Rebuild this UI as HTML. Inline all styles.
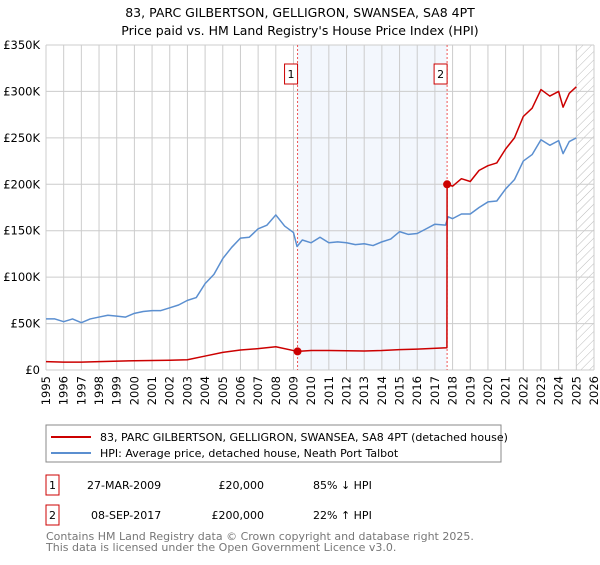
<!DOCTYPE html>
<html><head><meta charset="utf-8"><style>
body{margin:0;background:#fff;font-family:"Liberation Sans","DejaVu Sans",sans-serif;}
</style></head><body>
<svg id="c" width="600" height="560" xmlns="http://www.w3.org/2000/svg" font-family="DejaVu Sans, Liberation Sans, sans-serif">
<text x="300" y="17" text-anchor="middle" font-size="12.5">83, PARC GILBERTSON, GELLIGRON, SWANSEA, SA8 4PT</text>
<text x="300" y="35" text-anchor="middle" font-size="12.5">Price paid vs. HM Land Registry's House Price Index (HPI)</text>
<g id="plot"></g>
<g>
<rect x="46" y="425" width="455" height="37" fill="#fff" stroke="#888"/>
<line x1="51" y1="437" x2="91" y2="437" stroke="#cc0000" stroke-width="2"/>
<text x="100" y="441" font-size="11">83, PARC GILBERTSON, GELLIGRON, SWANSEA, SA8 4PT (detached house)</text>
<line x1="51" y1="453" x2="91" y2="453" stroke="#5b8fd0" stroke-width="2"/>
<text x="100" y="457" font-size="11">HPI: Average price, detached house, Neath Port Talbot</text>
</g>
<g font-size="11">
<rect x="46" y="475" width="13" height="20" fill="none" stroke="#cc0000"/>
<text x="52.5" y="489" text-anchor="middle">1</text>
<text x="87" y="489">27-MAR-2009</text><text x="264" y="489" text-anchor="end">£20,000</text><text x="313" y="489">85% ↓ HPI</text>
<rect x="46" y="505" width="13" height="20" fill="none" stroke="#cc0000"/>
<text x="52.5" y="519" text-anchor="middle">2</text>
<text x="91" y="519">08-SEP-2017</text><text x="264" y="519" text-anchor="end">£200,000</text><text x="313" y="519">22% ↑ HPI</text>
</g>
<text x="46" y="540" font-size="11" fill="#777">Contains HM Land Registry data © Crown copyright and database right 2025.</text>
<text x="46" y="551" font-size="11" fill="#777">This data is licensed under the Open Government Licence v3.0.</text>
</svg>
<script>
const hpiYears=[1995,1995.5,1996,1996.5,1997,1997.5,1998,1998.5,1999,1999.5,2000,2000.5,2001,2001.5,2002,2002.5,2003,2003.5,2004,2004.5,2005,2005.5,2006,2006.5,2007,2007.5,2008,2008.5,2009,2009.2,2009.5,2010,2010.5,2011,2011.5,2012,2012.5,2013,2013.5,2014,2014.5,2015,2015.5,2016,2016.5,2017,2017.6,2017.75,2018,2018.5,2019,2019.5,2020,2020.5,2021,2021.5,2022,2022.5,2023,2023.5,2024,2024.25,2024.6,2025];
const hpiValues=[55,55,52,55,51,55,57,59,58,57,61,63,64,64,67,70,75,78,93,103,120,132,142,143,152,156,167,155,148,133,140,137,143,137,138,137,135,136,134,138,141,149,146,147,152,157,156,165,163,168,168,175,181,182,195,205,225,232,248,242,247,233,246,250];
const redYears=[1995,1996,1997,1998,2000,2002,2003,2004,2005,2006,2007,2008,2009.23,2010,2011,2013,2014,2015,2016,2017.68,2017.69,2018,2018.5,2019,2019.5,2020,2020.5,2021,2021.5,2022,2022.5,2023,2023.5,2024,2024.25,2024.6,2025];
const redValues=[9,8.5,8.5,9,10,10.5,11,15,19,21.5,23,25,20,21,21,20.5,21,22,22.5,24,200,198,206,203,215,220,223,238,250,273,282,302,295,300,283,298,305];
const sales=[{label:"1",year:2009.23,value:20},{label:"2",year:2017.69,value:200}];
const yTicks=[0,50,100,150,200,250,300,350];
const yTickLabels=["£0","£50K","£100K","£150K","£200K","£250K","£300K","£350K"];
const xTicks=[1995,1996,1997,1998,1999,2000,2001,2002,2003,2004,2005,2006,2007,2008,2009,2010,2011,2012,2013,2014,2015,2016,2017,2018,2019,2020,2021,2022,2023,2024,2025,2026];

const NS="http://www.w3.org/2000/svg";
const X0=46,X1=594,Y0=370,Y1=45;
const xs=v=>X0+(v-1995)/(2026-1995)*(X1-X0);
const ys=v=>Y0-v/350*(Y0-Y1);
const g=document.getElementById('plot');
function mk(t,a,p){const e=document.createElementNS(NS,t);for(const k in a)e.setAttribute(k,a[k]);(p||g).appendChild(e);return e;}
// shaded region
const sh=mk('rect',{x:xs(sales[0].year),y:Y1,width:xs(sales[1].year)-xs(sales[0].year),height:Y0-Y1,fill:'#eef3fc',opacity:0.7});


// hatch future
const defs=mk('defs',{});
const pat=mk('pattern',{id:'h',width:6,height:6,patternUnits:'userSpaceOnUse',patternTransform:'rotate(45)'},defs);
mk('line',{x1:0,y1:0,x2:0,y2:6,stroke:'#bbb','stroke-width':1},pat);
const ht=mk('rect',{x:xs(2025),y:Y1,width:X1-xs(2025),height:Y0-Y1,fill:'url(#h)'});


// grid
xTicks.forEach(t=>{
 const l=mk('line',{x1:xs(t),y1:Y1,x2:xs(t),y2:Y0,stroke:'#ccc','stroke-width':1});
 
 
 const tx=mk('text',{x:0,y:0,'font-size':11.5,'text-anchor':'end',transform:`translate(${xs(t)+4},${Y0+6}) rotate(-90)`});
 tx.textContent=t;
 
 
});
yTicks.forEach((t,i)=>{
 const l=mk('line',{x1:X0,y1:ys(t),x2:X1,y2:ys(t),stroke:'#ccc','stroke-width':1});
 
 
 const tx=mk('text',{x:X0-6,y:ys(t)+4,'font-size':11.5,'text-anchor':'end'});
 tx.textContent=yTickLabels[i];
 
 
});
// sale lines
sales.forEach(s=>{
 const l=mk('line',{x1:xs(s.year),y1:Y1,x2:xs(s.year),y2:Y0,stroke:'#ee5555','stroke-width':1,'stroke-dasharray':'2,2'});
 
 
});
function line(xsA,vs,col,name){
 const p=mk('polyline',{points:xsA.map((x,i)=>xs(x)+','+ys(vs[i])).join(' '),fill:'none',stroke:col,'stroke-width':1.5,'stroke-linejoin':'round'});
 
 
}
line(hpiYears,hpiValues,'#5b8fd0','hpi-line');
line(redYears,redValues,'#cc0000','price-paid-line');
sales.forEach(s=>{
 const c=mk('circle',{cx:xs(s.year),cy:ys(s.value),r:4,fill:'#cc0000'});
 
 
 const r=mk('rect',{x:xs(s.year)-13,y:64,width:13,height:20,fill:'#fff',stroke:'#cc0000'});
 
 
 const t=mk('text',{x:xs(s.year)-6.5,y:78,'font-size':11,'text-anchor':'middle'});
 t.textContent=s.label;
 
 
});
</script>
</body></html>
